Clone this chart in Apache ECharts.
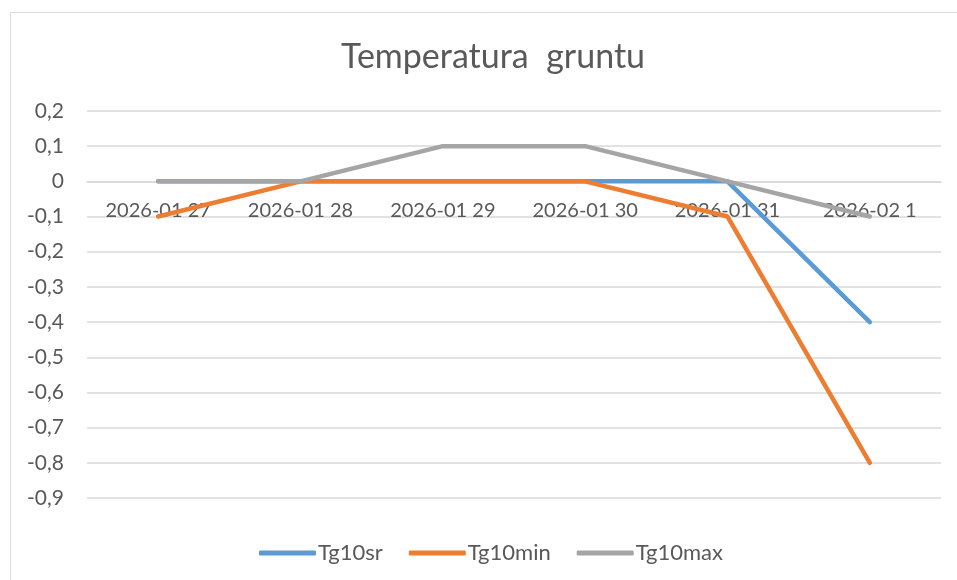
<!DOCTYPE html>
<html>
<head>
<meta charset="utf-8">
<title>Temperatura gruntu</title>
<script src="https://cdn.jsdelivr.net/npm/echarts@6/dist/echarts.min.js"></script>
<style>
  html, body { margin: 0; padding: 0; background: #fff; }
  #chart { width: 957px; height: 580px; }
</style>
</head>
<body>
<div id="chart"></div>
<script>
// dane
var categories = ["2026-01 27", "2026-01 28", "2026-01 29", "2026-01 30", "2026-01 31", "2026-02 1"];
var tg10sr = [0, 0, 0, 0, 0, -0.4];
var tg10min = [-0.1, 0, 0, 0, -0.1, -0.8];
var tg10max = [0, 0, 0.1, 0.1, 0, -0.1];

(function () {
    var myChart = echarts.init(document.getElementById("chart"));
    var font = "Lato";
    var txt = "#595959";
    var yMin = -0.9, yMax = 0.2;
    var gridTop = 111, gridBottom = 82;
    // os X przechodzi przez zero
    var plotH = 580 - gridTop - gridBottom;
    var zeroOffset = -plotH * (0 - yMin) / (yMax - yMin);

    function line(name, data, color) {
        return {
            name: name,
            type: "line",
            data: data,
            symbol: "none",
            lineStyle: { width: 4.5, color: color, cap: "round", join: "round" },
            itemStyle: { color: color }
        };
    }

    var option = {
        animation: false,
        backgroundColor: "#fff",
        textStyle: { fontFamily: font },
        // ramka wykresu
        graphic: [{
            type: "rect",
            shape: { x: 10.5, y: 12.5, width: 1000, height: 1000 },
            style: { fill: "none", stroke: "#d9d9d9", lineWidth: 1 },
            silent: true
        }],
        title: {
            text: "Temperatura  gruntu",
            left: 488,
            textAlign: "center",
            top: 35,
            textStyle: { fontFamily: font, fontSize: 34, fontWeight: "normal", color: txt }
        },
        legend: {
            top: 537,
            left: 254,
            itemWidth: 57,
            itemHeight: 5,
            itemGap: 26,
            icon: "roundRect",
            textStyle: { fontFamily: font, fontSize: 22, color: txt, padding: [0, 0, 0, -3] },
            data: ["Tg10sr", "Tg10min", "Tg10max"]
        },
        grid: {
            top: gridTop,
            bottom: gridBottom,
            left: 87,
            right: 16,
            containLabel: false
        },
        xAxis: {
            type: "category",
            data: categories,
            boundaryGap: true,
            offset: zeroOffset,
            axisLine: { onZero: false, lineStyle: { color: "#d9d9d9", width: 1.5 } },
            axisTick: { show: false },
            axisLabel: { color: txt, fontSize: 20, margin: 19, interval: 0 }
        },
        yAxis: {
            type: "value",
            min: yMin,
            max: yMax,
            interval: 0.1,
            axisLine: { show: false },
            axisTick: { show: false },
            splitLine: { lineStyle: { color: "#d9d9d9", width: 1.5 } },
            axisLabel: {
                color: txt,
                fontSize: 21,
                margin: 23,
                formatter: function (v) {
                    var r = Math.round(v * 10) / 10;
                    return r === 0 ? "0" : r.toFixed(1).replace(".", ",");
                }
            }
        },
        series: [
            line("Tg10sr", tg10sr, "#5B9BD5"),
            line("Tg10min", tg10min, "#ED7D31"),
            line("Tg10max", tg10max, "#A5A5A5")
        ]
    };
    myChart.setOption(option);
})();
</script>
</body>
</html>
